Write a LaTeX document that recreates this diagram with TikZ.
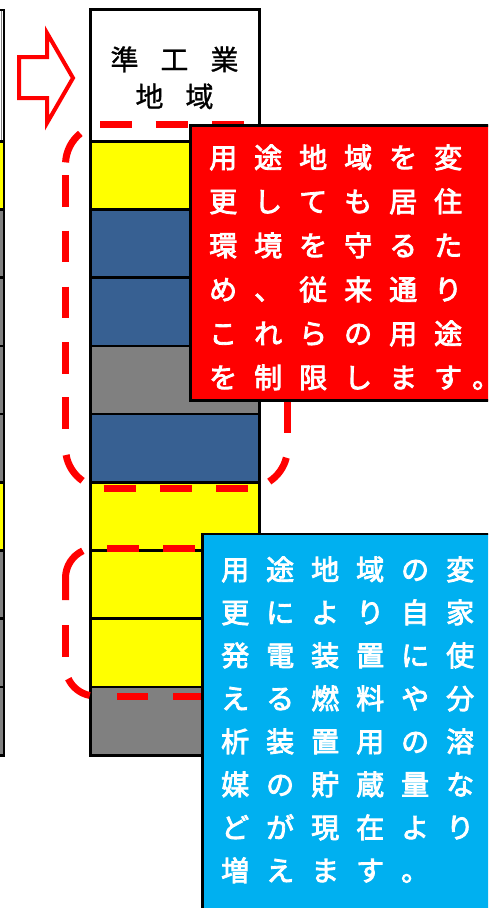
\documentclass[tikz,border=0pt]{standalone}
\usepackage{fontspec}
\newfontfamily\jp[FakeBold=3]{Noto Sans CJK JP}
\newfontfamily\jph[FakeBold=1]{Noto Sans CJK JP}
\newlength\jpgap
\let\jpstop\relax
\def\jpsp#1{\ifx#1\jpstop\else#1\hspace{\jpgap}\expandafter\jpsp\fi}
\newcommand\jl[1]{\jpsp#1\jpstop}
\definecolor{cy}{HTML}{FFFF00}
\definecolor{cb}{HTML}{376092}
\definecolor{cg}{HTML}{808080}
\definecolor{redbox}{HTML}{FF0000}
\definecolor{bluebox}{HTML}{00B0F0}
\begin{document}
\begin{tikzpicture}[x=1pt,y=-1pt,
  cellline/.style={black,line width=2.6pt},
  dashseg/.style={redbox,line width=7pt,line cap=butt},
  arrowshape/.style={redbox,line width=4pt,fill=white,miter limit=10},
  textbox/.style={draw=black,line width=2.4pt},
  boxtext/.style={text=white,inner sep=0pt,text width=272pt,align=left,
     font={\jp\fontsize{28pt}{44pt}\selectfont\setlength\jpgap{17pt}}},
  headtext/.style={text=black,inner sep=0pt,text width=171pt,align=center,
     font={\jph\fontsize{28pt}{37pt}\selectfont\setlength\jpgap{22pt}}}]
\useasboundingbox (0,0) rectangle (488,908);
\clip (0,0) rectangle (488,908);
\fill[white] (0,0) rectangle (488,908);
% left column (only a sliver visible)
\foreach \c [count=\i from 0] in {cy,cg,cg,cg,cg,cy,cg,cg,cg}
  \fill[\c] (-30,{141.3+68.2*\i}) rectangle (4,{141.3+68.2*(\i+1)});
\draw[cg,line width=1pt] (1.2,10) -- (1.2,141.3);
\foreach \i in {0,...,9}
  \draw[cellline] (-30,{141.3+68.2*\i}) -- (4,{141.3+68.2*\i});
\draw[cellline] (-30,10) -- (4,10) -- (4,755.3) -- (-30,755.3);
% main column
\foreach \c [count=\i from 0] in {cy,cb,cb,cg,cb,cy,cy,cy,cg}
  \fill[\c] (90.5,{141.3+68.2*\i}) rectangle (259.7,{141.3+68.2*(\i+1)});
\foreach \i in {0,...,9}
  \draw[cellline] (90.5,{141.3+68.2*\i}) -- (259.7,{141.3+68.2*\i});
\draw[cellline] (90.5,9.5) rectangle (259.7,755.3);
\node[headtext,anchor=base] (head) at (174.5,70) {\jl{準工業}\\\jl{地域}};
% arrow
\draw[arrowshape] (19,57) -- (47,57) -- (47,33) -- (73,78) -- (47,123) -- (47,98) -- (19,98) -- cycle;
% dashed group 1 (rounded rectangle, radius 40)
\foreach \a in {100,155.5,212} \draw[dashseg] (\a,124.5) -- (\a+32,124.5);
\foreach \a in {175,230.5,286.5,342,397} \draw[dashseg] (65.5,\a) -- (65.5,\a+31.5);
\foreach \a in {103.5,160,216} \draw[dashseg] (\a,488) -- (\a+32,488);
\foreach \a in {178,234,290,346,401.5} \draw[dashseg] (287.5,\a) -- (287.5,\a+31.5);
\draw[dashseg] (105.5,164.5) ++(231:40) arc[start angle=231,end angle=183,radius=40];
\draw[dashseg] (105.5,448) ++(125:40) arc[start angle=125,end angle=170,radius=40];
\draw[dashseg] (247.5,448) ++(14:40) arc[start angle=14,end angle=57,radius=40];
\draw[dashseg] (247.5,164.5) ++(-61:40) arc[start angle=-61,end angle=-15,radius=40];
% dashed group 2 (rounded rectangle, radius 30)
\foreach \a in {107,163} \draw[dashseg] (\a,548) -- (\a+32,548);
\foreach \a in {117,173} \draw[dashseg] (\a,696) -- (\a+31,696);
\draw[dashseg] (65.5,625) -- (65.5,657);
\draw[dashseg] (95.5,578) ++(245:30) arc[start angle=245,end angle=180,radius=30] -- (65.5,600);
\draw[dashseg] (95.5,666) ++(101:30) arc[start angle=101,end angle=155,radius=30];
% text boxes
\draw[textbox,fill=redbox] (190.5,125.4) rectangle (500,400.5);
\node[boxtext,anchor=base west] (warn) at (209,168)
  {\jl{用途地域を変}\\\jl{更しても居住}\\\jl{環境を守るた}\\\jl{め、従来通り}\\\jl{これらの用途}\\\mbox{\jl{を制限します}\hspace{-7pt}。}};
\draw[textbox,fill=bluebox] (202.5,533.7) rectangle (500,920);
\node[boxtext,anchor=base west,font={\jp\fontsize{28pt}{43pt}\selectfont\setlength\jpgap{17pt}}] (info) at (221,580)
  {\jl{用途地域の変}\\\jl{更により自家}\\\jl{発電装置に使}\\\jl{える燃料や分}\\\jl{析装置用の溶}\\\jl{媒の貯蔵量な}\\\jl{どが現在より}\\\jl{増えます。}};
\end{tikzpicture}
\end{document}
